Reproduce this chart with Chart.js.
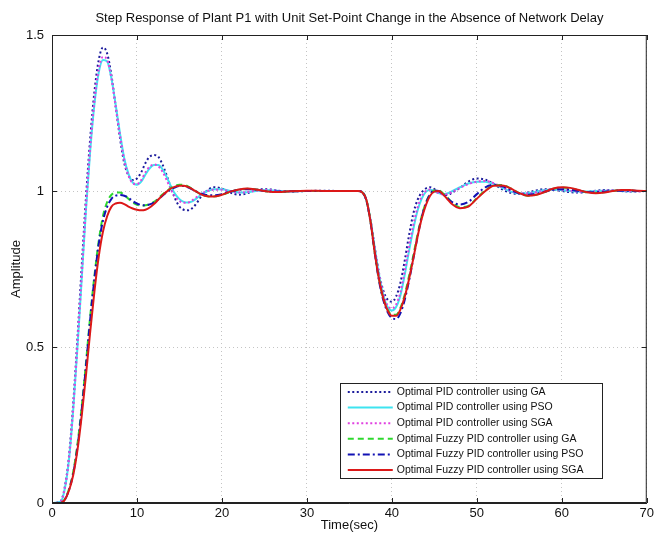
<!DOCTYPE html>
<html>
<head>
<meta charset="utf-8">
<script src="https://cdn.jsdelivr.net/npm/chart.js@4/dist/chart.umd.min.js"></script>
<style>
  html, body { margin: 0; padding: 0; background: #fff; }
  canvas { display: block; }
</style>
</head>
<body>
<canvas id="canvas" width="657" height="536"></canvas>
<script>
// time axis (sec), shared by all responses
const timeSec = [
  0, 1, 1.5, 2, 2.5, 3, 3.5, 4, 4.5, 5,
  5.5, 6, 6.5, 7, 7.5, 8, 8.5, 9, 9.5, 10,
  10.5, 11, 11.5, 12, 12.5, 13, 13.5, 14, 14.5, 15,
  15.5, 16, 16.5, 17, 17.5, 18, 19, 20, 21, 22,
  23, 24, 25, 26, 27, 28, 30, 32, 34, 36,
  36.5, 37, 37.5, 38, 38.5, 39, 39.5, 40, 40.5, 41,
  41.5, 42, 42.5, 43, 43.5, 44, 44.5, 45, 45.5, 46,
  46.5, 47, 48, 49, 50, 51, 52, 53, 54, 55,
  56, 57, 58, 59, 60, 61, 62, 63, 64, 65,
  66, 67, 68, 69, 70
];

const pidGA = [
  0, 0.005, 0.05, 0.15, 0.32, 0.53, 0.76, 0.98, 1.17, 1.32,
  1.42, 1.46, 1.44, 1.37, 1.27, 1.17, 1.09, 1.05, 1.035, 1.04,
  1.06, 1.09, 1.11, 1.115, 1.11, 1.085, 1.05, 1.01, 0.975, 0.95,
  0.94, 0.938, 0.945, 0.96, 0.98, 0.995, 1.012, 1.008, 0.995, 0.988,
  0.993, 1.003, 1.006, 1.004, 1.0, 0.998, 1.0, 1.001, 1.0, 1.0,
  0.997, 0.97, 0.905, 0.815, 0.735, 0.68, 0.652, 0.645, 0.662, 0.705,
  0.775, 0.855, 0.925, 0.97, 0.995, 1.008, 1.012, 1.006, 0.996, 0.989,
  0.987, 0.993, 1.01, 1.03, 1.04, 1.036, 1.022, 1.005, 0.994, 0.991,
  0.995, 1.002, 1.006, 1.004, 1.0, 0.996, 0.995, 0.997, 1.001, 1.003,
  1.002, 1.0, 0.998, 0.999, 1.0
];

const pidPSO = [
  0, 0.004, 0.045, 0.14, 0.3, 0.5, 0.72, 0.94, 1.13, 1.28,
  1.38, 1.42, 1.415, 1.36, 1.275, 1.185, 1.105, 1.055, 1.027, 1.02,
  1.03, 1.053, 1.073, 1.083, 1.083, 1.07, 1.045, 1.015, 0.99, 0.974,
  0.965, 0.963, 0.967, 0.976, 0.987, 0.996, 1.006, 1.006, 1.0, 0.995,
  0.996, 1.0, 1.003, 1.002, 1.0, 0.999, 1.0, 1.0, 1.0, 1.0,
  0.997, 0.97, 0.905, 0.815, 0.73, 0.665, 0.628, 0.617, 0.628, 0.665,
  0.73, 0.805, 0.875, 0.935, 0.975, 0.997, 1.004, 1.0, 0.993, 0.99,
  0.992, 0.998, 1.012, 1.024, 1.03, 1.03, 1.022, 1.01, 0.998, 0.992,
  0.993, 0.998, 1.003, 1.005, 1.003, 1.0, 0.998, 0.998, 1.0, 1.001,
  1.001, 1.0, 0.999, 1.0, 1.0
];

const pidSGA = [
  0, 0.004, 0.046, 0.142, 0.305, 0.51, 0.73, 0.95, 1.14, 1.29,
  1.39, 1.43, 1.42, 1.36, 1.27, 1.18, 1.1, 1.05, 1.025, 1.022,
  1.035, 1.06, 1.078, 1.085, 1.08, 1.062, 1.035, 1.005, 0.982, 0.968,
  0.962, 0.963, 0.97, 0.98, 0.99, 0.997, 1.004, 1.004, 0.999, 0.995,
  0.997, 1.001, 1.003, 1.002, 1.0, 0.999, 1.0, 1.0, 1.0, 1.0,
  0.997, 0.97, 0.905, 0.815, 0.73, 0.668, 0.633, 0.624, 0.636, 0.675,
  0.742, 0.818, 0.888, 0.945, 0.982, 1.0, 1.005, 1.0, 0.993, 0.989,
  0.99, 0.996, 1.01, 1.022, 1.03, 1.032, 1.025, 1.012, 1.0, 0.993,
  0.992, 0.996, 1.002, 1.005, 1.004, 1.001, 0.998, 0.997, 0.999, 1.001,
  1.002, 1.001, 0.999, 0.999, 1.0
];

const fuzzyGA = [
  0, 0, 0.012, 0.045, 0.1, 0.19, 0.31, 0.45, 0.6, 0.73,
  0.84, 0.92, 0.965, 0.988, 0.995, 0.995, 0.988, 0.975, 0.963, 0.956,
  0.953, 0.954, 0.958, 0.965, 0.976, 0.989, 1.0, 1.01, 1.017, 1.02,
  1.02, 1.015, 1.007, 0.998, 0.99, 0.985, 0.982, 0.988, 0.997, 1.004,
  1.007, 1.005, 1.0, 0.997, 0.997, 0.999, 1.0, 1.0, 1.0, 1.0,
  0.996, 0.972, 0.9, 0.8, 0.715, 0.655, 0.62, 0.603, 0.603, 0.625,
  0.667, 0.725, 0.79, 0.858, 0.918, 0.962, 0.99, 1.002, 1.002, 0.993,
  0.98, 0.965, 0.948, 0.952, 0.977, 1.002, 1.018, 1.019, 1.008, 0.993,
  0.985, 0.988, 0.997, 1.007, 1.011, 1.009, 1.002, 0.996, 0.994, 0.996,
  1.0, 1.003, 1.002, 1.0, 1.0
];

const fuzzyPSO = [
  0, 0, 0.01, 0.042, 0.095, 0.18, 0.3, 0.44, 0.59, 0.72,
  0.83, 0.905, 0.95, 0.975, 0.985, 0.987, 0.985, 0.978, 0.968, 0.96,
  0.955, 0.954, 0.957, 0.963, 0.973, 0.985, 0.996, 1.005, 1.012, 1.016,
  1.016, 1.012, 1.005, 0.998, 0.992, 0.988, 0.986, 0.99, 0.998, 1.004,
  1.006, 1.004, 1.0, 0.998, 0.998, 0.999, 1.0, 1.0, 1.0, 1.0,
  0.996, 0.97, 0.898, 0.798, 0.71, 0.65, 0.612, 0.593, 0.59, 0.608,
  0.65, 0.71, 0.78, 0.85, 0.915, 0.96, 0.99, 1.002, 1.0, 0.99,
  0.978, 0.966, 0.957, 0.965, 0.99, 1.012, 1.02, 1.015, 1.003, 0.992,
  0.988, 0.991, 0.998, 1.004, 1.006, 1.004, 1.0, 0.997, 0.996, 0.998,
  1.0, 1.001, 1.001, 1.0, 1.0
];

const fuzzySGA = [
  0, 0, 0.01, 0.04, 0.09, 0.17, 0.28, 0.41, 0.55, 0.68,
  0.79, 0.87, 0.92, 0.95, 0.96, 0.962, 0.958, 0.95, 0.944, 0.94,
  0.938, 0.94, 0.947, 0.958, 0.972, 0.986, 0.998, 1.008, 1.014, 1.017,
  1.017, 1.013, 1.006, 0.998, 0.99, 0.985, 0.982, 0.988, 0.998, 1.005,
  1.008, 1.005, 1.0, 0.997, 0.997, 0.999, 1.001, 1.0, 1.0, 1.0,
  0.996, 0.972, 0.9, 0.8, 0.715, 0.655, 0.617, 0.6, 0.6, 0.62,
  0.66, 0.715, 0.78, 0.85, 0.91, 0.955, 0.985, 0.998, 1.0, 0.99,
  0.975, 0.96, 0.945, 0.95, 0.975, 1.0, 1.017, 1.018, 1.008, 0.993,
  0.985, 0.988, 0.997, 1.008, 1.012, 1.01, 1.003, 0.996, 0.993, 0.995,
  1.0, 1.003, 1.003, 1.001, 1.0
];

const seriesLabels = [
  'Optimal PID controller using GA',
  'Optimal PID controller using PSO',
  'Optimal PID controller using SGA',
  'Optimal Fuzzy PID controller using GA',
  'Optimal Fuzzy PID controller using PSO',
  'Optimal Fuzzy PID controller using SGA'
];
const seriesData = [pidGA, pidPSO, pidSGA, fuzzyGA, fuzzyPSO, fuzzySGA];
const seriesColors = ['#1c1c9c', '#3ee4f0', '#e040e0', '#2ed82e', '#1212b4', '#dc1818'];
const seriesDash = [[2, 2.5], [], [2, 2.5], [6, 4], [7, 3, 2, 3], []];

const FONT = 'Liberation Sans, Arial, sans-serif';

const datasets = seriesData.map((vals, i) => ({
  label: seriesLabels[i],
  data: vals.map((v, j) => ({ x: timeSec[j], y: v })),
  borderColor: seriesColors[i],
  backgroundColor: seriesColors[i],
  borderDash: seriesDash[i],
  borderWidth: 2,
  pointRadius: 0,
  cubicInterpolationMode: 'monotone',
  fill: false,
  order: seriesData.length - i
}));

// white page + matlab style box, inward ticks and legend inside the axes
const matlabAxes = {
  id: 'matlabAxes',
  beforeDraw(chart) {
    const ctx = chart.ctx;
    ctx.save();
    ctx.fillStyle = '#fff';
    ctx.fillRect(0, 0, chart.width, chart.height);
    ctx.restore();
    // centre the title over the axes, not the whole canvas
    if (chart.titleBlock) {
      chart.titleBlock.left = chart.chartArea.left;
      chart.titleBlock.right = chart.chartArea.right;
    }
  },
  afterDraw(chart) {
    const ctx = chart.ctx;
    const a = chart.chartArea;
    const xs = chart.scales.x, ys = chart.scales.y;
    ctx.save();
    ctx.strokeStyle = '#222';
    ctx.lineWidth = 1;
    ctx.strokeRect(a.left + 0.5, a.top + 0.5, a.right - a.left - 1, a.bottom - a.top - 1);
    ctx.beginPath();
    xs.ticks.forEach(t => {
      const px = Math.round(xs.getPixelForValue(t.value)) + 0.5;
      ctx.moveTo(px, a.bottom); ctx.lineTo(px, a.bottom - 5);
      ctx.moveTo(px, a.top); ctx.lineTo(px, a.top + 5);
    });
    ys.ticks.forEach(t => {
      const py = Math.round(ys.getPixelForValue(t.value)) + 0.5;
      ctx.moveTo(a.left, py); ctx.lineTo(a.left + 5, py);
      ctx.moveTo(a.right, py); ctx.lineTo(a.right - 5, py);
    });
    ctx.stroke();

    // legend
    const rowH = 15.6;
    const boxW = 262, boxH = 95;
    const bx = a.right - 45 - boxW, by = a.bottom - 25 - boxH;
    ctx.fillStyle = '#fff';
    ctx.fillRect(bx, by, boxW, boxH);
    ctx.strokeStyle = '#222';
    ctx.strokeRect(Math.round(bx) + 0.5, Math.round(by) + 0.5, boxW, boxH);
    ctx.font = '10.5px ' + FONT;
    ctx.textBaseline = 'middle';
    chart.data.datasets.forEach((ds, i) => {
      const cy = by + 9 + i * rowH;
      ctx.save();
      ctx.strokeStyle = ds.borderColor;
      ctx.lineWidth = 2;
      ctx.setLineDash(ds.borderDash);
      ctx.beginPath();
      ctx.moveTo(bx + 8, cy); ctx.lineTo(bx + 53, cy);
      ctx.stroke();
      ctx.restore();
      ctx.fillStyle = '#111';
      ctx.fillText(ds.label, bx + 57, cy);
    });
    ctx.restore();
  }
};

new Chart(document.getElementById('canvas'), {
  type: 'line',
  data: { datasets },
  options: {
    responsive: false,
    animation: false,
    devicePixelRatio: 1,
    layout: { padding: { left: 0, right: 8, top: 0, bottom: 0 } },
    plugins: {
      legend: { display: false },
      tooltip: { enabled: false },
      title: {
        display: true,
        text: 'Step Response of Plant P1 with Unit Set-Point Change in the Absence of Network Delay',
        color: '#111',
        font: { family: FONT, size: 13, weight: 'normal' },
        padding: { top: 11, bottom: 8.4 }
      }
    },
    scales: {
      x: {
        type: 'linear',
        min: 0,
        max: 70,
        afterFit(scale) { scale.height = 33; },
        ticks: { stepSize: 10, color: '#111', font: { family: FONT, size: 13 }, padding: 3, maxRotation: 0 },
        grid: { color: '#c4c4c4', drawTicks: false },
        border: { color: '#222', dash: [1, 3] },
        title: { display: true, text: 'Time(sec)', color: '#111', font: { family: FONT, size: 13 }, padding: { top: 0, bottom: 3 } }
      },
      y: {
        min: 0,
        max: 1.5,
        afterFit(scale) { scale.width = 52; },
        ticks: { stepSize: 0.5, color: '#111', font: { family: FONT, size: 13 }, padding: 8, callback: v => String(v) },
        grid: { color: '#c4c4c4', drawTicks: false },
        border: { color: '#222', dash: [1, 3] },
        title: { display: true, text: 'Amplitude', color: '#111', font: { family: FONT, size: 13 }, padding: { top: 9, bottom: 0 } }
      }
    }
  },
  plugins: [matlabAxes]
});
</script>
</body>
</html>
